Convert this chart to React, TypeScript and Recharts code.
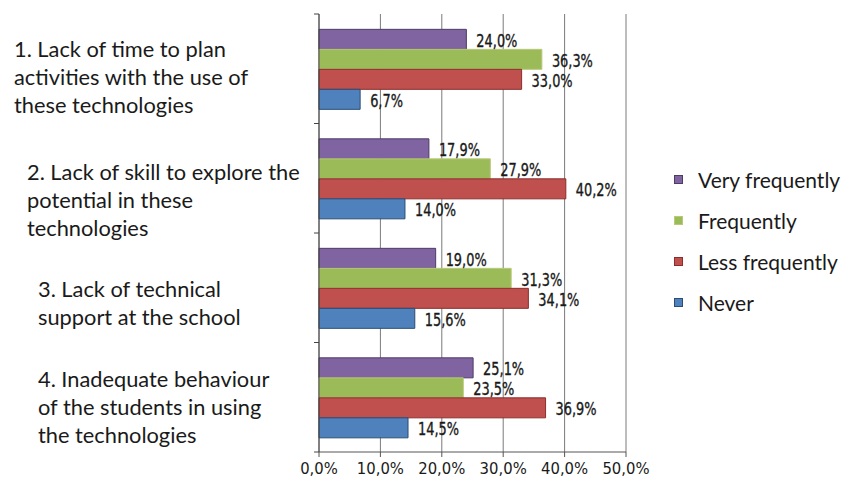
import React from "react";
import {
  BarChart,
  Bar,
  XAxis,
  YAxis,
  CartesianGrid,
  LabelList,
} from "recharts";

// survey categories, one line per entry
const categoryLines = [
  ["1. Lack of time to plan", "activities with the use of", "these technologies"],
  ["2. Lack of skill to explore the", "potential in these", "technologies"],
  ["3. Lack of technical", "support at the school"],
  ["4. Inadequate behaviour", "of the students in using", "the technologies"],
];

const veryFrequently = [24.0, 17.9, 19.0, 25.1];
const frequently = [36.3, 27.9, 31.3, 23.5];
const lessFrequently = [33.0, 40.2, 34.1, 36.9];
const never = [6.7, 14.0, 15.6, 14.5];

const xTicks = [0, 10, 20, 30, 40, 50];

const series = [
  { key: "veryFrequently", name: "Very frequently", fill: "#8064A2", stroke: "#4E3B66" },
  { key: "frequently", name: "Frequently", fill: "#9BBB59", stroke: "#B9C97A" },
  { key: "lessFrequently", name: "Less frequently", fill: "#C0504D", stroke: "#8A2E2B" },
  { key: "never", name: "Never", fill: "#4F81BD", stroke: "#2B4C74" },
];

const data = categoryLines.map((lines, i) => ({
  key: `c${i}`,
  veryFrequently: veryFrequently[i],
  frequently: frequently[i],
  lessFrequently: lessFrequently[i],
  never: never[i],
}));

// chart geometry
const WIDTH = 845;
const HEIGHT = 484;
const AXIS_W = 319;
const TOP = 14;
const X_AXIS_H = 32;
const RIGHT = 219;
const BAND = (HEIGHT - TOP - X_AXIS_H) / data.length;

// hand-placed text boxes for the category labels
const labelBox = [
  { x: 14, dy: 9 },
  { x: 27, dy: 22 },
  { x: 38, dy: 16 },
  { x: 38, dy: 10 },
];

const FONT = "Lato, 'Open Sans', sans-serif";
const NARROW = "'DejaVu Sans Condensed', 'DejaVu Sans', sans-serif";
const LINE_H = 28;

const pct = (v: number) => `${v.toFixed(1).replace(".", ",")}%`;

const CategoryTick = (props: any) => {
  const { y, payload } = props;
  const idx = data.findIndex((d) => d.key === payload.value);
  const lines = categoryLines[idx] || [];
  const box = labelBox[idx];
  const center = y + box.dy;
  const first = center - ((lines.length - 1) * LINE_H) / 2;
  const top = y - BAND / 2;
  return (
    <g>
      <line x1={AXIS_W - 5} x2={AXIS_W} y1={top} y2={top} stroke="#444" />
      {idx === data.length - 1 && (
        <line x1={AXIS_W - 5} x2={AXIS_W} y1={top + BAND} y2={top + BAND} stroke="#444" />
      )}
      {lines.map((line, i) => (
        <text
          key={i}
          x={box.x}
          y={first + i * LINE_H}
          dy="0.35em"
          fontFamily={FONT}
          fontSize={21.8}
          fill="#1a1a1a"
        >
          {line}
        </text>
      ))}
    </g>
  );
};

// value label squeezed horizontally, like a condensed face
const ValueLabel = (props: any) => {
  const { x, y, width, height, value } = props;
  const tx = Number(x) + Number(width) + 10;
  const ty = Number(y) + Number(height) / 2 + 1;
  return (
    <text
      transform={`translate(${tx} ${ty}) scale(0.82 1)`}
      x={0}
      y={0}
      dy="0.36em"
      fontFamily={NARROW}
      fontSize={17.5}
      fill="#1a1a1a"
      stroke="#1a1a1a"
      strokeWidth={0.35}
    >
      {pct(Number(value))}
    </text>
  );
};

const LegendBox = () => (
  <div
    style={{
      position: "absolute",
      left: 674,
      top: 159,
      fontFamily: FONT,
      fontSize: 21,
      color: "#1a1a1a",
    }}
  >
    {series.map((s) => (
      <div
        key={s.key}
        style={{ display: "flex", alignItems: "center", height: 41, whiteSpace: "nowrap" }}
      >
        <span
          style={{
            width: 7,
            height: 7,
            background: s.fill,
            border: `1px solid ${s.stroke}`,
            marginRight: 15,
            display: "inline-block",
          }}
        />
        {s.name}
      </div>
    ))}
  </div>
);

export default function App() {
  return (
    <div
      style={{
        position: "absolute",
        left: 0,
        top: 0,
        width: WIDTH,
        height: HEIGHT,
        background: "#fff",
      }}
    >
      <BarChart
        width={WIDTH}
        height={HEIGHT}
        data={data}
        layout="vertical"
        margin={{ top: TOP, right: RIGHT, bottom: 0, left: 0 }}
        barCategoryGap="14%"
        barGap={0}
      >
        <CartesianGrid horizontal={false} vertical stroke="#7a7a7a" />
        <XAxis
          type="number"
          domain={[0, 50]}
          ticks={xTicks}
          height={X_AXIS_H}
          tickFormatter={pct}
          stroke="#555"
          tickSize={5}
          tickMargin={5}
          tick={{ fontFamily: NARROW, fontSize: 16.5, fill: "#1a1a1a" }}
        />
        <YAxis
          type="category"
          dataKey="key"
          width={AXIS_W}
          stroke="#444"
          tickLine={false}
          tickSize={0}
          tickMargin={0}
          tick={<CategoryTick />}
          interval={0}
        />
        {series.map((s) => (
          <Bar
            key={s.key}
            dataKey={s.key}
            name={s.name}
            fill={s.fill}
            stroke={s.stroke}
            strokeWidth={1}
            isAnimationActive={false}
          >
            <LabelList dataKey={s.key} content={<ValueLabel />} />
          </Bar>
        ))}
      </BarChart>
      <LegendBox />
    </div>
  );
}
